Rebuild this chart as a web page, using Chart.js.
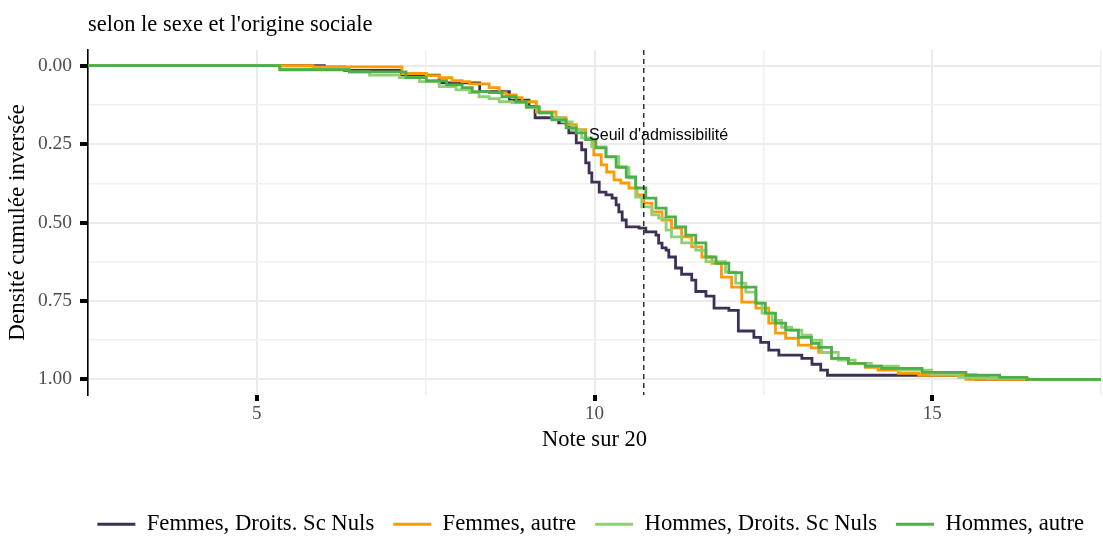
<!DOCTYPE html>
<html>
<head>
<meta charset="utf-8">
<script src="https://cdn.jsdelivr.net/npm/chart.js@4"></script>
<style>
  html, body { margin: 0; padding: 0; background: #fff; }
  #wrap { width: 1103px; height: 536px; }
</style>
</head>
<body>
<div id="wrap"><canvas id="myChart"></canvas></div>
<script>
const chartTitle = "selon le sexe et l'origine sociale";
const seriesNames = ["Femmes, Droits. Sc Nuls", "Femmes, autre", "Hommes, Droits. Sc Nuls", "Hommes, autre"];
const seriesColors = ["#3D3055", "#FF9A00", "#8ED174", "#4CAF4A"];

// courbes (note, densité cumulée inversée)
const femNulsX = [2.5, 6.0, 6.3, 7.14, 7.7, 8.3, 8.74, 9.03, 9.12, 9.47, 9.62, 9.73, 9.81, 9.87, 9.92, 9.96, 10.07, 10.17, 10.26, 10.32, 10.36, 10.41, 10.47, 10.66, 10.76, 10.91, 10.95, 11.0, 11.06, 11.1, 11.2, 11.29, 11.44, 11.5, 11.65, 11.77, 11.99, 12.13, 12.36, 12.46, 12.58, 12.73, 13.07, 13.22, 13.35, 13.45, 15.65, 17.5];
const femNulsY = [0, 0.005, 0.015, 0.03, 0.055, 0.083, 0.11, 0.13, 0.166, 0.182, 0.214, 0.246, 0.268, 0.31, 0.342, 0.371, 0.403, 0.412, 0.422, 0.444, 0.466, 0.492, 0.514, 0.518, 0.53, 0.54, 0.566, 0.581, 0.588, 0.61, 0.645, 0.665, 0.684, 0.72, 0.735, 0.773, 0.78, 0.846, 0.866, 0.882, 0.907, 0.923, 0.933, 0.952, 0.971, 0.987, 1.0, 1.0];

const femAutreX = [2.5, 5.83, 7.15, 7.51, 7.7, 7.89, 8.04, 8.15, 8.44, 8.59, 8.69, 8.84, 8.93, 9.14, 9.43, 9.58, 9.73, 9.87, 9.99, 10.1, 10.18, 10.29, 10.39, 10.51, 10.63, 10.73, 10.85, 11.0, 11.14, 11.29, 11.44, 11.59, 11.74, 11.88, 12.03, 12.18, 12.39, 12.58, 12.68, 12.83, 13.02, 13.21, 13.32, 13.51, 13.76, 14.01, 14.2, 14.5, 14.8, 15.5, 17.5];
const femAutreY = [0, 0.004, 0.025, 0.032, 0.038, 0.048, 0.051, 0.058, 0.07, 0.086, 0.093, 0.102, 0.115, 0.147, 0.166, 0.188, 0.204, 0.236, 0.284, 0.316, 0.339, 0.364, 0.374, 0.39, 0.412, 0.438, 0.466, 0.492, 0.518, 0.546, 0.578, 0.61, 0.63, 0.674, 0.706, 0.754, 0.773, 0.821, 0.853, 0.869, 0.891, 0.9, 0.914, 0.933, 0.949, 0.962, 0.971, 0.981, 0.987, 1.0, 1.0];

const homNulsX = [2.5, 5.34, 6.37, 6.67, 7.11, 7.41, 7.7, 7.95, 8.15, 8.29, 8.44, 8.59, 8.78, 8.99, 9.18, 9.37, 9.52, 9.67, 9.81, 9.96, 10.17, 10.36, 10.51, 10.61, 10.7, 10.85, 10.95, 11.06, 11.14, 11.29, 11.5, 11.65, 11.94, 12.09, 12.24, 12.39, 12.48, 12.63, 12.77, 12.92, 13.07, 13.21, 13.36, 13.61, 13.86, 14.1, 14.5, 14.99, 15.39, 15.83, 16.42, 17.5];
const homNulsY = [0, 0.01, 0.02, 0.03, 0.038, 0.051, 0.067, 0.077, 0.086, 0.099, 0.105, 0.115, 0.118, 0.134, 0.15, 0.166, 0.179, 0.204, 0.23, 0.259, 0.29, 0.325, 0.358, 0.419, 0.45, 0.476, 0.486, 0.524, 0.546, 0.565, 0.588, 0.625, 0.658, 0.693, 0.722, 0.757, 0.789, 0.812, 0.834, 0.843, 0.859, 0.875, 0.914, 0.939, 0.949, 0.958, 0.971, 0.984, 0.994, 0.997, 1.0, 1.0];

const homAutreX = [2.5, 5.34, 6.37, 7.21, 7.51, 7.81, 8.04, 8.19, 8.44, 8.63, 8.84, 8.99, 9.18, 9.37, 9.58, 9.73, 9.87, 10.02, 10.17, 10.32, 10.47, 10.61, 10.76, 10.91, 11.06, 11.2, 11.35, 11.5, 11.65, 11.8, 11.99, 12.18, 12.39, 12.53, 12.68, 12.83, 13.02, 13.21, 13.32, 13.51, 13.76, 14.01, 14.25, 14.85, 15.5, 16.0, 16.4, 17.5];
const homAutreY = [0, 0.013, 0.02, 0.038, 0.048, 0.061, 0.07, 0.083, 0.086, 0.099, 0.115, 0.131, 0.15, 0.173, 0.198, 0.214, 0.236, 0.262, 0.291, 0.323, 0.355, 0.39, 0.422, 0.454, 0.482, 0.514, 0.54, 0.565, 0.61, 0.63, 0.66, 0.706, 0.757, 0.789, 0.821, 0.843, 0.866, 0.885, 0.898, 0.933, 0.949, 0.958, 0.965, 0.978, 0.987, 0.994, 1.0, 1.0];

const xTicks = [2.5, 5, 7.5, 10, 12.5, 15, 17.5];
const xLabels = ["", "5", "", "10", "", "15", ""];
const yTicks = [0, 0.125, 0.25, 0.375, 0.5, 0.625, 0.75, 0.875, 1];
const yLabels = ["0.00", "", "0.25", "", "0.50", "", "0.75", "", "1.00"];

const seuil = 10.73;
const seuilLabel = "Seuil d'admissibilité";
const seuilLabelX = 9.92;
const seuilLabelY = 0.224;

const serif = '"Liberation Serif", "Times New Roman", serif';
const seriesX = [femNulsX, femAutreX, homNulsX, homAutreX];
const seriesY = [femNulsY, femAutreY, homNulsY, homAutreY];

const datasets = seriesNames.map((name, i) => ({
  label: name,
  data: seriesX[i].map((x, j) => ({ x: x, y: seriesY[i][j] })),
  borderColor: seriesColors[i],
  backgroundColor: seriesColors[i],
  borderWidth: 2.8,
  pointRadius: 0,
  stepped: true,
  order: seriesNames.length - 1 - i,
}));

const isMajor = (labels, ctx) => ctx.tick && labels[ctx.index] !== "";

// titre + ligne du seuil
const decorations = {
  id: "decorations",
  afterDatasetsDraw(chart) {
    const { ctx, chartArea, scales } = chart;
    const px = scales.x.getPixelForValue(seuil);
    ctx.save();
    ctx.strokeStyle = "#000";
    ctx.lineWidth = 1.2;
    ctx.setLineDash([5, 4]);
    ctx.beginPath();
    ctx.moveTo(px, chartArea.top);
    ctx.lineTo(px, chartArea.bottom);
    ctx.stroke();
    ctx.setLineDash([]);
    ctx.fillStyle = "#000";
    ctx.font = '16px "Liberation Sans", Arial, sans-serif';
    ctx.textAlign = "left";
    ctx.textBaseline = "middle";
    ctx.fillText(seuilLabel, scales.x.getPixelForValue(seuilLabelX), scales.y.getPixelForValue(seuilLabelY));
    ctx.font = "22.5px " + serif;
    ctx.textBaseline = "alphabetic";
    ctx.fillText(chartTitle, chartArea.left, 31);
    ctx.restore();
  },
};

const ctx = document.getElementById("myChart");
const myChart = new Chart(ctx, {
  type: "line",
  data: { datasets: datasets },
  plugins: [decorations],
  options: {
    responsive: true,
    maintainAspectRatio: false,
    animation: false,
    layout: { padding: { top: 50, right: 0, bottom: 0, left: 0 } },
    plugins: {
      tooltip: { enabled: false },
      legend: {
        position: "bottom",
        align: "end",
        maxHeight: 42,
        labels: {
          boxWidth: 38,
          boxHeight: 3,
          padding: 19,
          color: "#000",
          font: { family: serif, size: 22.7 },
          sort: (a, b) => a.datasetIndex - b.datasetIndex,
          generateLabels: (chart) =>
            Chart.defaults.plugins.legend.labels.generateLabels(chart).map((l) => ({ ...l, lineWidth: 0 })),
        },
      },
    },
    scales: {
      x: {
        type: "linear",
        min: 2.5,
        max: 17.5,
        afterBuildTicks: (scale) => { scale.ticks = xTicks.map((v) => ({ value: v })); },
        afterFit: (scale) => { scale.height = 99; },
        border: { display: false },
        grid: {
          color: (c) => (isMajor(xLabels, c) ? "#EBEBEB" : "#F0F0F0"),
          lineWidth: (c) => (isMajor(xLabels, c) ? 2 : 1.5),
          tickLength: 6,
          tickColor: (c) => (isMajor(xLabels, c) ? "#000" : "rgba(0,0,0,0)"),
          tickWidth: 4,
        },
        ticks: {
          autoSkip: false,
          maxRotation: 0,
          padding: 2,
          color: "#4D4D4D",
          font: { family: serif, size: 19 },
          callback: (v, i) => xLabels[i],
        },
        title: {
          display: true,
          text: "Note sur 20",
          color: "#000",
          font: { family: serif, size: 22.5 },
          padding: { top: 0, bottom: 40 },
        },
      },
      y: {
        type: "linear",
        reverse: true,
        min: -0.05,
        max: 1.05,
        afterBuildTicks: (scale) => { scale.ticks = yTicks.map((v) => ({ value: v })); },
        afterFit: (scale) => { scale.width = 88; },
        border: { display: true, color: "#000", width: 1.6 },
        grid: {
          color: (c) => (isMajor(yLabels, c) ? "#EBEBEB" : "#F0F0F0"),
          lineWidth: (c) => (isMajor(yLabels, c) ? 2 : 1.5),
          tickLength: 8,
          tickColor: (c) => (isMajor(yLabels, c) ? "#000" : "rgba(0,0,0,0)"),
          tickWidth: 4,
        },
        ticks: {
          autoSkip: false,
          padding: 8,
          color: "#4D4D4D",
          font: { family: serif, size: 19.5 },
          callback: (v, i) => yLabels[i],
        },
        title: {
          display: true,
          text: "Densité cumulée inversée",
          color: "#000",
          font: { family: serif, size: 23 },
          padding: { top: 4, bottom: 0 },
        },
      },
    },
  },
});
</script>
</body>
</html>
